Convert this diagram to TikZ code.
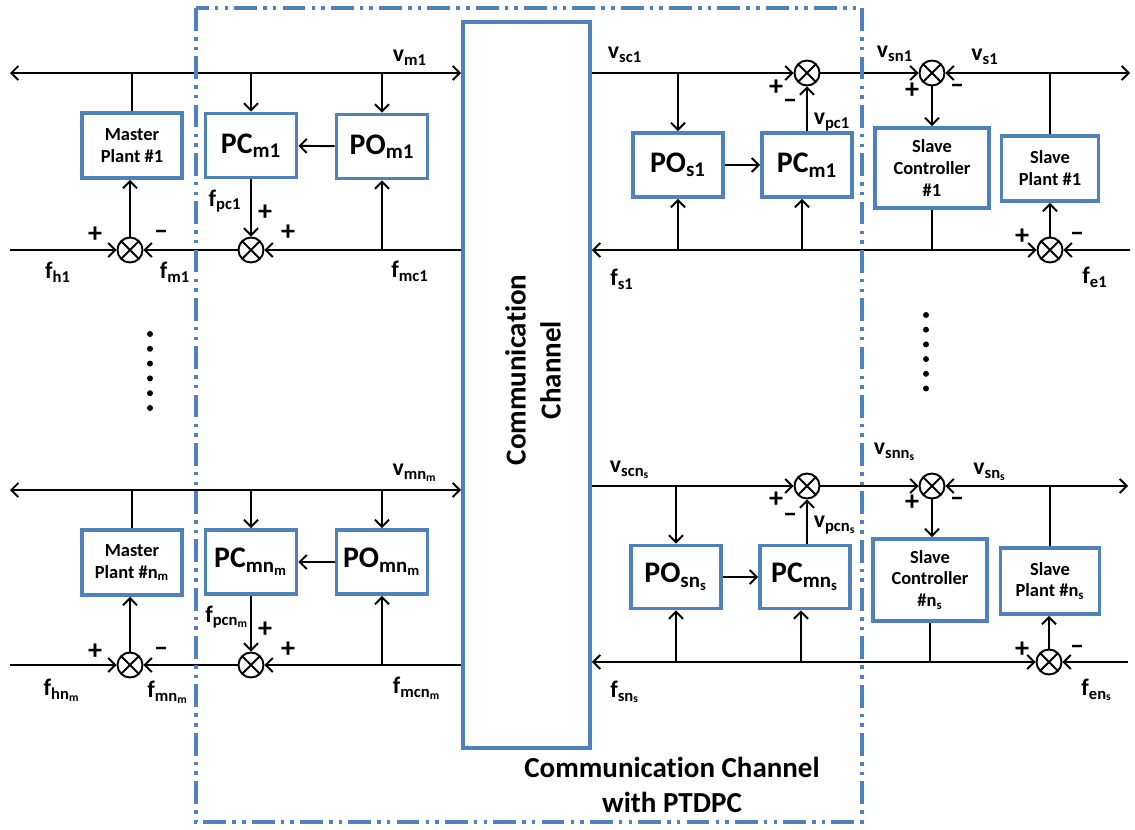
\documentclass[tikz,border=0pt]{standalone}
\usepackage{fontspec}
\setmainfont{Carlito}[Ligatures=NoCommon]
\usepackage{tikz}
\usetikzlibrary{arrows.meta, calc}
\definecolor{chblue}{RGB}{79,129,189}
\newcommand{\sbs}[1]{\textsubscript{#1}}

\begin{document}
\begin{tikzpicture}[x=0.02cm, y=-0.02cm,
        blk/.style={rectangle, draw=chblue, line width=2.2pt, fill=white, align=center, inner sep=0pt},
        plant/.style={blk, font=\fontsize{10.5}{12.5}\selectfont\bfseries},
        ctrl/.style={blk, minimum width=1.82cm, minimum height=1.28cm, font=\fontsize{17}{18}\selectfont\bfseries},
        sumj/.style={circle, draw, line width=1.1pt, minimum size=0.5cm, inner sep=0pt,
            path picture={\draw[line width=1.1pt] (path picture bounding box.north west) -- (path picture bounding box.south east) (path picture bounding box.north east) -- (path picture bounding box.south west);}},
        sig/.style={font=\fontsize{13.5}{14}\selectfont\bfseries, inner sep=1pt},
        sgn/.style={font=\fontsize{16}{16}\selectfont\bfseries, inner sep=0pt},
        ln/.style={line width=1.1pt},
        arr/.style={ln, -{Straight Barb[length=4pt, width=8pt]}},
        barr/.style={ln, {Straight Barb[length=4pt, width=8pt]}-{Straight Barb[length=4pt, width=8pt]}},
        frame/.style={draw=chblue, line width=2.3pt, dash pattern=on 13pt off 3.5pt on 2pt off 3.5pt on 2pt off 3.5pt}
    ]
        \useasboundingbox (0,0) rectangle (1135,829);

        % Communication channel
        \node[blk, minimum width=2.54cm, minimum height=14.52cm] (cc) at (526.5,385) {};
        \node[rotate=90, align=center, font=\fontsize{16.5}{20}\selectfont\bfseries] (cctxt) at (533,370) {Communication\\Channel};

        % Master side, row 1
        \node[plant, minimum width=2cm, minimum height=1.3cm] (mp1) at (132,145.5) {Master\\Plant \#1};
        \node[ctrl] (pcm1) at (251,145.5) {PC\sbs{m1}};
        \node[ctrl] (pom1) at (382,146.5) {PO\sbs{m1}};
        \node[sumj] (ms1) at (130,250) {};
        \node[sumj] (pf1) at (251,250) {};
        \coordinate (mL1) at (10,73);
        \coordinate (fh1) at (10,250);

        \draw[barr] (mL1) -- (mL1 -| cc.west);
        \draw[ln] (mp1.north) -- (mp1.north |- mL1);
        \draw[arr] (pcm1.north |- mL1) -- (pcm1.north);
        \draw[arr] (pom1.north |- mL1) -- (pom1.north);
        \draw[arr] (pom1) -- (pcm1);
        \draw[arr] (pcm1) -- (pf1);
        \draw[arr] (cc.west |- pf1) -- (pf1);
        \draw[arr] (pom1.south |- pf1) -- (pom1.south);
        \draw[arr] (pf1) -- (ms1);
        \draw[arr] (fh1) -- (ms1);
        \draw[arr] (ms1) -- (ms1 |- mp1.south);

        \node[sig] (vm1) at (410,58) {v\sbs{m1}};
        \node[sig] (fmc1) at (410,271) {f\sbs{mc1}};
        \node[sig] (fpc1) at (225,201) {f\sbs{pc1}};
        \node[sig] (fh1t) at (58,272) {f\sbs{h1}};
        \node[sig] (fm1) at (175,272) {f\sbs{m1}};
        \node[sgn] at (265,213) {+};
        \node[sgn] at (288,233) {+};
        \node[sgn] at (95,235) {+};
        \node[sgn] at (161,235) {--};

        % Slave side, row 1
        \node[ctrl, minimum width=1.8cm] (pos1) at (678,165) {PO\sbs{s1}};
        \node[ctrl, minimum width=1.8cm] (pcsl1) at (807,165) {PC\sbs{m1}};
        \node[plant, minimum width=2.28cm, minimum height=1.6cm] (sc1) at (932,168) {Slave\\Controller\\\#1};
        \node[plant, minimum width=1.94cm, minimum height=1.3cm] (sp1) at (1050,168.5) {Slave\\Plant \#1};
        \node[sumj] (ss1) at (807,73) {};
        \node[sumj] (sn1) at (932,73) {};
        \node[sumj] (se1) at (1050,250) {};
        \coordinate (sR1) at (1130,73);
        \coordinate (fe1) at (1130,250);
        \coordinate (pcin1) at ([xshift=-0.1cm]pcsl1.south);

        \draw[arr] (cc.east |- ss1) -- (ss1);
        \draw[arr] (pos1.north |- ss1) -- (pos1.north);
        \draw[arr] (pos1) -- (pcsl1);
        \draw[arr] (pcsl1) -- (ss1);
        \draw[arr] (ss1) -- (sn1);
        \draw[arr] (sn1) -- (sc1);
        \draw[ln] (sp1.north) -- (sp1.north |- sR1);
        \draw[arr] (sp1.north |- sR1) -- (sR1);
        \draw[arr] (sp1.north |- sR1) -- (sn1);
        \draw[ln] (sc1.south) -- (sc1.south |- se1);
        \draw[barr] (cc.east |- se1) -- (se1);
        \draw[arr] (fe1) -- (se1);
        \draw[arr] (se1) -- (sp1);
        \draw[arr] (pos1.south |- se1) -- (pos1.south);
        \draw[arr] (pcin1 |- se1) -- (pcin1);

        \node[sig] (vsc1) at (625,55) {v\sbs{sc1}};
        \node[sig] (vpc1) at (832,122) {v\sbs{pc1}};
        \node[sig] (fs1) at (622,279) {f\sbs{s1}};
        \node[sig] (vsn1) at (895,54) {v\sbs{sn1}};
        \node[sig] (vs1) at (985,57) {v\sbs{s1}};
        \node[sig] (fe1t) at (1095,277) {f\sbs{e1}};
        \node[sgn] at (776,88) {+};
        \node[sgn] at (790,104) {--};
        \node[sgn] at (912,91) {+};
        \node[sgn] at (957,89) {--};
        \node[sgn] at (1022,237) {+};
        \node[sgn] at (1077,237) {--};

        % Master side, row n_m
        \node[plant, minimum width=2cm, minimum height=1.3cm] (mp2) at (132,562.5) {Master\\Plant \#n\sbs{m}};
        \node[ctrl] (pcm2) at (251,562) {PC\sbs{mn\sbs{m}}};
        \node[ctrl] (pom2) at (382,562) {PO\sbs{mn\sbs{m}}};
        \node[sumj] (ms2) at (130,665) {};
        \node[sumj] (pf2) at (251,665) {};
        \coordinate (mL2) at (10,490);
        \coordinate (fh2) at (10,665);

        \draw[barr] (mL2) -- (mL2 -| cc.west);
        \draw[ln] (mp2.north) -- (mp2.north |- mL2);
        \draw[arr] (pcm2.north |- mL2) -- (pcm2.north);
        \draw[arr] (pom2.north |- mL2) -- (pom2.north);
        \draw[arr] (pom2) -- (pcm2);
        \draw[arr] (pcm2) -- (pf2);
        \draw[arr] (cc.west |- pf2) -- (pf2);
        \draw[arr] (pom2.south |- pf2) -- (pom2.south);
        \draw[arr] (pf2) -- (ms2);
        \draw[arr] (fh2) -- (ms2);
        \draw[arr] (ms2) -- (ms2 |- mp2.south);

        \node[sig] (vm2) at (415,473) {v\sbs{mn\sbs{m}}};
        \node[sig] (fmc2) at (417,688) {f\sbs{mcn\sbs{m}}};
        \node[sig] (fpc2) at (227,617) {f\sbs{pcn\sbs{m}}};
        \node[sig] (fh2t) at (62,690) {f\sbs{hn\sbs{m}}};
        \node[sig] (fm2) at (168,692) {f\sbs{mn\sbs{m}}};
        \node[sgn] at (265,630) {+};
        \node[sgn] at (288,650) {+};
        \node[sgn] at (95,652) {+};
        \node[sgn] at (161,652) {--};

        % Slave side, row n_s
        \node[ctrl, minimum width=1.8cm, minimum height=1.26cm] (pos2) at (676,577) {PO\sbs{sn\sbs{s}}};
        \node[ctrl, minimum width=1.8cm, minimum height=1.26cm] (pcsl2) at (805,577) {PC\sbs{mn\sbs{s}}};
        \node[plant, minimum width=2.28cm, minimum height=1.64cm] (sc2) at (930,580) {Slave\\Controller\\\#n\sbs{s}};
        \node[plant, minimum width=1.98cm, minimum height=1.32cm] (sp2) at (1050,581) {Slave\\Plant \#n\sbs{s}};
        \node[sumj] (ss2) at (807,486) {};
        \node[sumj] (sn2) at (932,486) {};
        \node[sumj] (se2) at (1049,662) {};
        \coordinate (sR2) at (1128,486);
        \coordinate (fe2) at (1128,662);
        \coordinate (pcin2) at ([xshift=-0.08cm]pcsl2.south);

        \draw[arr] (cc.east |- ss2) -- (ss2);
        \draw[arr] (pos2.north |- ss2) -- (pos2.north);
        \draw[arr] (pos2) -- (pcsl2);
        \draw[arr] (pcsl2.north -| ss2) -- (ss2);
        \draw[arr] (ss2) -- (sn2);
        \draw[arr] (sn2) -- (sn2 |- sc2.north);
        \draw[ln] (sp2.north) -- (sp2.north |- sR2);
        \draw[arr] (sp2.north |- sR2) -- (sR2);
        \draw[arr] (sp2.north |- sR2) -- (sn2);
        \draw[ln] (sc2.south) -- (sc2.south |- se2);
        \draw[barr] (cc.east |- se2) -- (se2);
        \draw[arr] (fe2) -- (se2);
        \draw[arr] (se2) -- (se2 |- sp2.south);
        \draw[arr] (pos2.south |- se2) -- (pos2.south);
        \draw[arr] (pcin2 |- se2) -- (pcin2);

        \node[sig] (vsc2) at (630,470) {v\sbs{scn\sbs{s}}};
        \node[sig] (vpc2) at (835,525) {v\sbs{pcn\sbs{s}}};
        \node[sig] (fs2) at (625,692) {f\sbs{sn\sbs{s}}};
        \node[sig] (vsn2) at (895,452) {v\sbs{snn\sbs{s}}};
        \node[sig] (vs2) at (990,472) {v\sbs{sn\sbs{s}}};
        \node[sig] (fe2t) at (1097,690) {f\sbs{en\sbs{s}}};
        \node[sgn] at (776,500) {+};
        \node[sgn] at (790,518) {--};
        \node[sgn] at (912,503) {+};
        \node[sgn] at (957,502) {--};
        \node[sgn] at (1022,650) {+};
        \node[sgn] at (1077,650) {--};

        % omitted rows
        \foreach \k in {0,...,5} {
            \fill (150,334+14.8*\k) circle (1.7pt);
            \fill (926,315+14.7*\k) circle (1.7pt);
        }

        % PTDPC frame
        \draw[frame] (196,8) rectangle (862,822);
        \node[align=center, font=\fontsize{16.5}{19.5}\selectfont\bfseries] (ptdpc) at (672,785) {Communication Channel\\with PTDPC};
    \end{tikzpicture}
\end{document}
